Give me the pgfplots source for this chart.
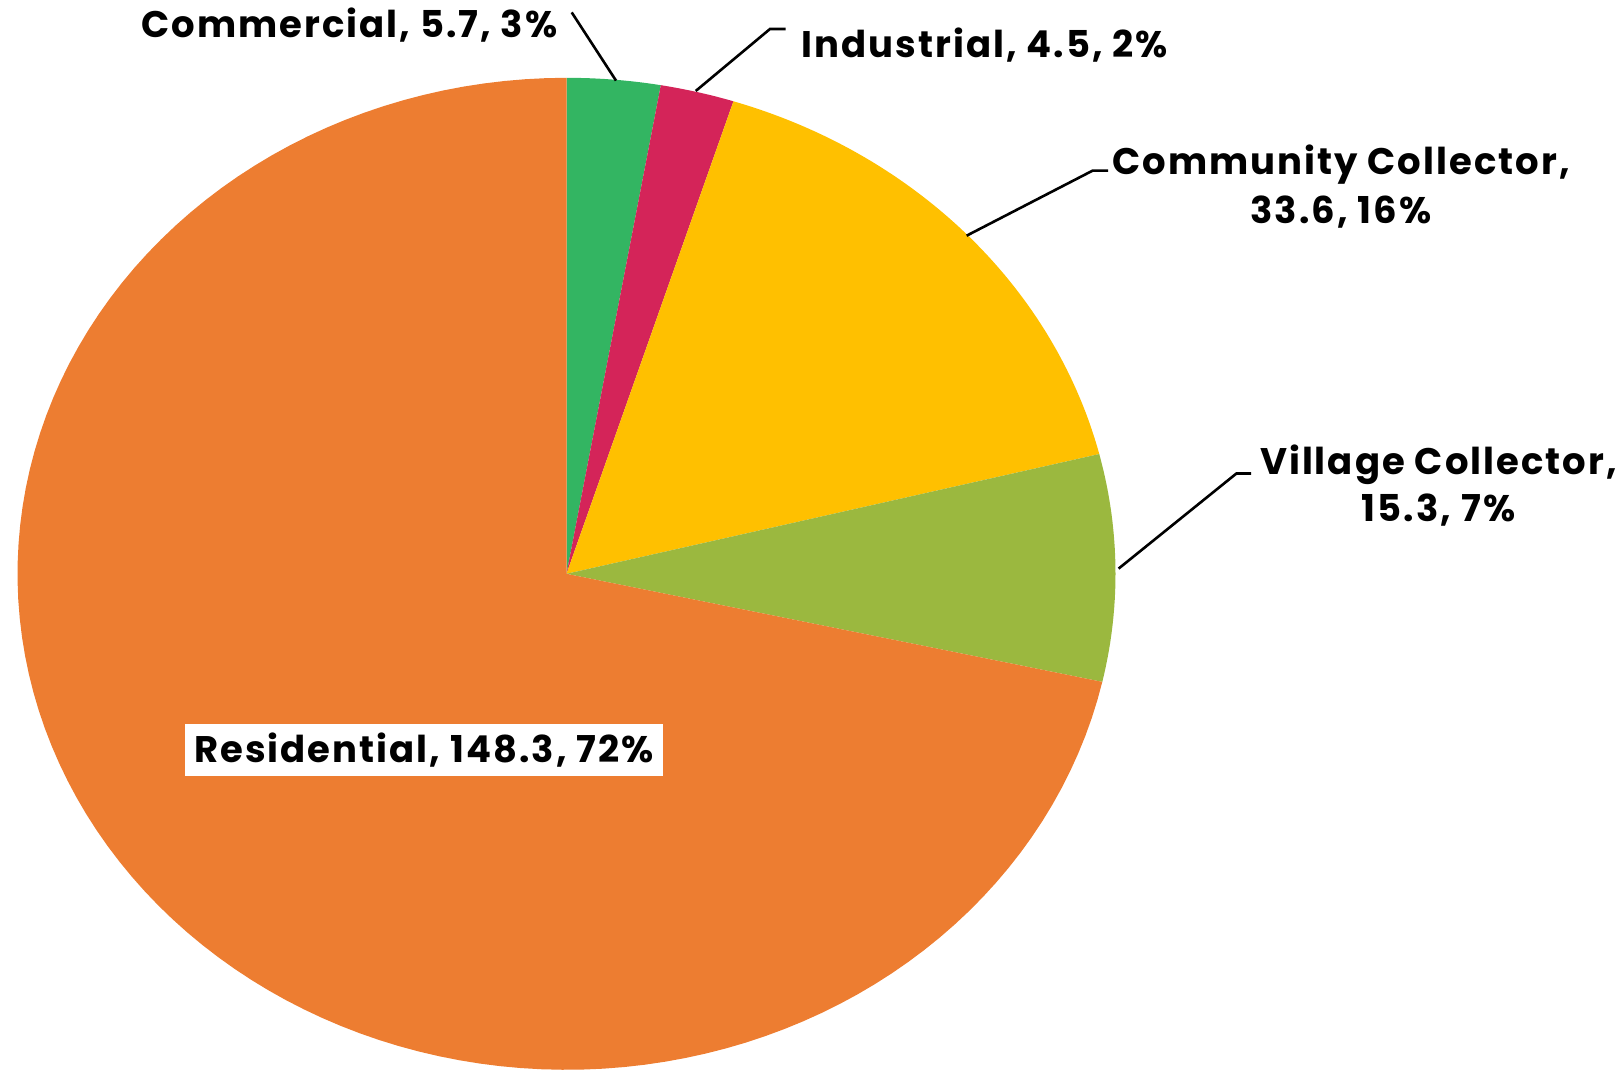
\documentclass[border=0pt]{standalone}
\usepackage{fontspec}
\setmainfont{Poppins}[LetterSpace=5.5]
\usepackage{pgfplots}
\usepackage{pgfplotstable}
\pgfplotsset{compat=1.18}
\definecolor{cComm}{HTML}{33B562}
\definecolor{cInd}{HTML}{D42459}
\definecolor{cCommu}{HTML}{FFC000}
\definecolor{cVill}{HTML}{9BB83F}
\definecolor{cRes}{HTML}{ED7D31}
\pgfplotstableread{
name value
Commercial 5.7
Industrial 4.5
Community 33.6
Village 15.3
Residential 148.3
}\piedata
\pgfplotstablegetelem{0}{value}\of\piedata\let\vA\pgfplotsretval
\pgfplotstablegetelem{1}{value}\of\piedata\let\vB\pgfplotsretval
\pgfplotstablegetelem{2}{value}\of\piedata\let\vC\pgfplotsretval
\pgfplotstablegetelem{3}{value}\of\piedata\let\vD\pgfplotsretval
\pgfplotstablegetelem{4}{value}\of\piedata\let\vE\pgfplotsretval
\pgfmathsetmacro{\tot}{\vA+\vB+\vC+\vD+\vE}
\pgfmathsetmacro{\aA}{90}
\pgfmathsetmacro{\aB}{\aA-360*(\vA/\tot)}
\pgfmathsetmacro{\aC}{\aB-360*(\vB/\tot)}
\pgfmathsetmacro{\aD}{\aC-360*(\vC/\tot)}
\pgfmathsetmacro{\aE}{\aD-360*(\vD/\tot)}
\pgfmathsetmacro{\aF}{\aE-360*(\vE/\tot)}
\def\cx{566.5}\def\cy{497.2}\def\rx{549}\def\ry{496}
\newcommand{\slice}[3]{%
  \fill[#3] (axis cs:\cx,\cy) -- plot[domain=#1:#2, samples=120, variable=\t]
   ({\cx+\rx*cos(\t)},{\cy+\ry*sin(\t)}) -- cycle;}
\begin{document}
\begin{tikzpicture}
\begin{axis}[
  width=810.5pt, height=535.5pt, scale only axis,
  xmin=0, xmax=1621, ymin=0, ymax=1071,
  hide axis, clip=false, enlargelimits=false]
\path (rel axis cs:0,0) rectangle (rel axis cs:1,1);
\slice{\aA}{\aB}{cComm}
\slice{\aB}{\aC}{cInd}
\slice{\aC}{\aD}{cCommu}
\slice{\aD}{\aE}{cVill}
\slice{\aE}{\aF}{cRes}
\begin{scope}[font=\fontsize{18.5}{22}\selectfont\bfseries]
\draw[line width=1.3pt] (axis cs:571.7,1058.6) -- (axis cs:616,990.4);
\node[anchor=east, inner sep=0pt] at (axis cs:558,1046) {Commercial, 5.7, 3\%};
\draw[line width=1.3pt] (axis cs:785.7,1042) -- (axis cs:770,1042) -- (axis cs:695.7,980);
\node[anchor=west, inner sep=0pt] at (axis cs:801,1025.5) {Industrial, 4.5, 2\%};
\draw[line width=1.3pt] (axis cs:1108,900.4) -- (axis cs:1092.7,900.4) -- (axis cs:966.6,835.3);
\node[inner sep=0pt] at (axis cs:1341,906) {Community Collector,};
\node[inner sep=0pt] at (axis cs:1341,859) {33.6, 16\%};
\draw[line width=1.3pt] (axis cs:1251,597.5) -- (axis cs:1236.4,597.5) -- (axis cs:1118.6,502.4);
\node[inner sep=0pt] at (axis cs:1438.5,606) {Village Collector,};
\node[inner sep=0pt] at (axis cs:1438.5,561.3) {15.3, 7\%};
\fill[white] (axis cs:185,294.6) rectangle (axis cs:662.7,347.3);
\node[inner sep=0pt] at (axis cs:424,321) {Residential, 148.3, 72\%};
\end{scope}
\end{axis}
\end{tikzpicture}
\end{document}
